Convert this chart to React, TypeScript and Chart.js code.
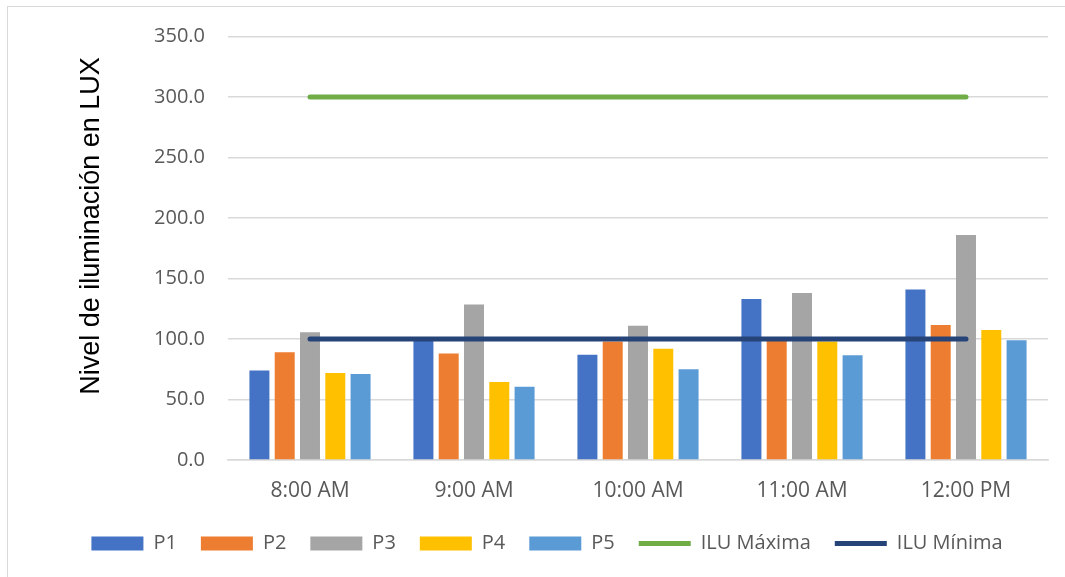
import React, { useEffect, useRef } from "react";
import { Chart, registerables } from "chart.js";

Chart.register(...registerables);

const categories = ["8:00 AM", "9:00 AM", "10:00 AM", "11:00 AM", "12:00 PM"];
const p1 = [74, 99, 87, 133, 141];
const p2 = [89, 88, 98, 99, 111.5];
const p3 = [105.5, 128.5, 111, 138, 186];
const p4 = [72, 64.5, 92, 98, 107.5];
const p5 = [71, 60.5, 75, 86.5, 99];
const iluMaxima = [300, 300, 300, 300, 300];
const iluMinima = [100, 100, 100, 100, 100];
const yTitle = "Nivel de iluminación en LUX";

const tickColor = "#595959";
const gridColor = "#d9d9d9";

const yTitlePlugin = {
  id: "yTitleCustom",
  afterDraw(chart: any) {
    const ctx = chart.ctx;
    ctx.save();
    ctx.translate(91, 219);
    ctx.rotate(-Math.PI / 2);
    ctx.font = '27px "Liberation Sans"';
    ctx.fillStyle = "#000000";
    ctx.textAlign = "center";
    ctx.textBaseline = "alphabetic";
    ctx.fillText(yTitle, 0, 0);
    ctx.restore();
  },
};

export default function App() {
  const ref = useRef<HTMLCanvasElement>(null);
  useEffect(() => {
    if (!ref.current) return;
    const barDs = (label: string, data: number[], color: string) => ({
      type: "bar" as const,
      label,
      data,
      backgroundColor: color,
      borderColor: color,
      borderWidth: 0,
      categoryPercentage: 0.771,
      barPercentage: 0.79,
      pointStyle: "rect" as const,
      order: 1,
    });
    const lineDs = (label: string, data: number[], color: string) => ({
      type: "line" as const,
      label,
      data,
      borderColor: color,
      backgroundColor: color,
      borderWidth: 5,
      borderCapStyle: "round" as const,
      pointRadius: 0,
      pointHoverRadius: 0,
      pointStyle: "line" as const,
      fill: false,
      tension: 0,
      order: 0,
    });
    const chart = new Chart(ref.current, {
      type: "bar",
      data: {
        labels: categories,
        datasets: [
          barDs("P1", p1, "#4472C4"),
          barDs("P2", p2, "#ED7D31"),
          barDs("P3", p3, "#A5A5A5"),
          barDs("P4", p4, "#FFC000"),
          barDs("P5", p5, "#5B9BD5"),
          lineDs("ILU Máxima", iluMaxima, "#70AD47"),
          lineDs("ILU Mínima", iluMinima, "#264478"),
        ] as any,
      },
      options: {
        animation: false,
        responsive: false,
        maintainAspectRatio: false,
        layout: { padding: { top: 29.5, right: 38, bottom: 13.4, left: 38 } },
        plugins: {
          tooltip: { enabled: false },
          legend: {
            position: "bottom",
            labels: {
              usePointStyle: true,
              pointStyleWidth: 52,
              boxHeight: 14,
              padding: 24,
              color: tickColor,
              font: { family: '"Open Sans"', size: 20 },
              sort: (a: any, b: any) => a.datasetIndex - b.datasetIndex,
            },
          },
        },
        scales: {
          x: {
            afterFit: (scale: any) => {
              scale.height = 49.6;
            },
            grid: { display: false, drawTicks: false },
            border: { display: true, color: gridColor, width: 1.5 },
            ticks: {
              color: tickColor,
              font: { family: '"Open Sans"', size: 21 },
              padding: 18,
              maxRotation: 0,
            },
          },
          y: {
            min: 0,
            max: 350,
            afterFit: (scale: any) => {
              scale.width = 182;
              scale.paddingTop = 0;
              scale.paddingBottom = 0;
            },
            grid: { color: gridColor, lineWidth: 1.5, drawTicks: false },
            border: { display: false },
            ticks: {
              stepSize: 50,
              padding: 23,
              color: tickColor,
              font: { family: '"Open Sans"', size: 20 },
              callback: (v: any) => Number(v).toFixed(1),
            },
          },
        },
      },
      plugins: [yTitlePlugin],
    });
    return () => chart.destroy();
  }, []);

  return (
    <div
      style={{
        position: "absolute",
        left: 0,
        top: 0,
        width: 1065,
        height: 577,
        overflow: "hidden",
        background: "#ffffff",
      }}
    >
      <div
        style={{
          position: "absolute",
          left: 7,
          top: 6,
          width: 1100,
          height: 620,
          border: "1.5px solid #d9d9d9",
          boxSizing: "border-box",
        }}
      />
      <canvas
        ref={ref}
        width={1078}
        height={570}
        style={{ position: "absolute", left: 8, top: 7, width: 1078, height: 570 }}
      />
    </div>
  );
}
